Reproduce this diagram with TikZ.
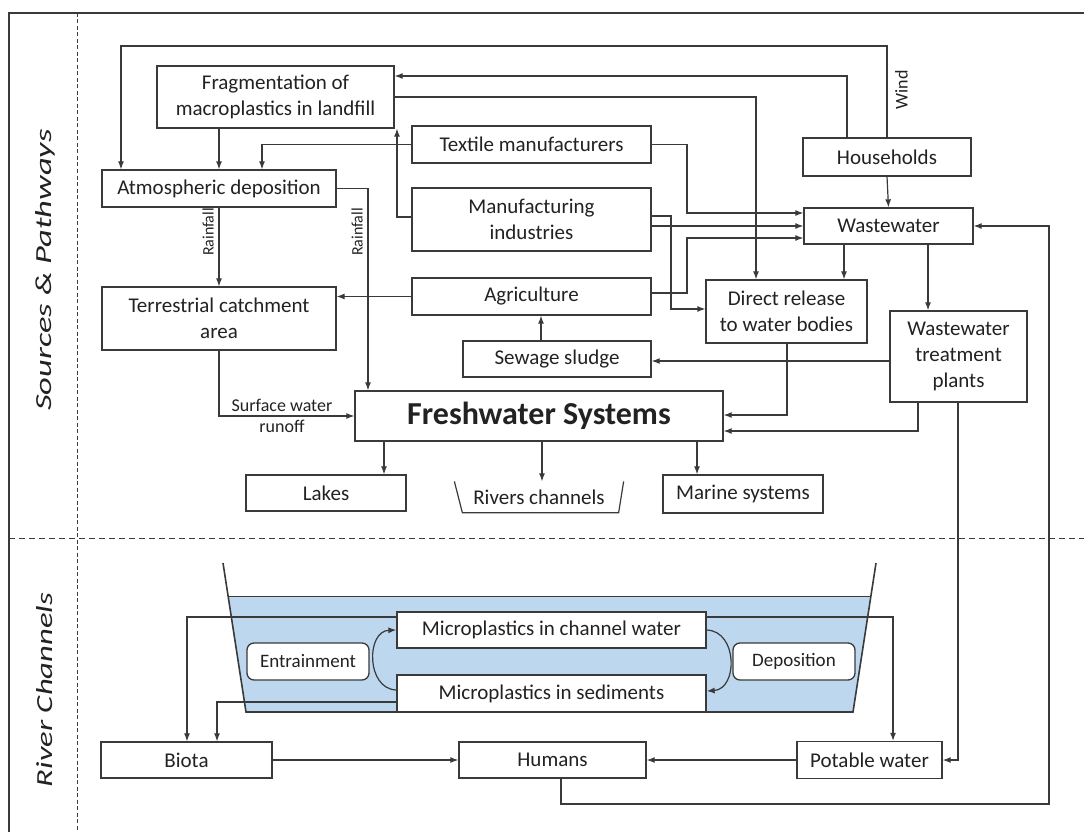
\documentclass[tikz,border=0pt]{standalone}
\usepackage{fontspec}
\setmainfont{Carlito}
\usetikzlibrary{arrows.meta,calc}
\definecolor{ln}{HTML}{3A3A3A}
\definecolor{tx}{HTML}{222222}
\definecolor{water}{HTML}{BDD7EE}
\begin{document}
\begin{tikzpicture}[x=1pt,y=-1pt,
  sz/.style 2 args={minimum width=#1pt,minimum height=#2pt},
  box/.style={draw=ln,line width=1.3pt,fill=white,inner sep=0pt,align=center,text=tx,font=\fontsize{21}{26}\selectfont},
  rbox/.style={box,rounded corners=7pt,font=\fontsize{19}{22}\selectfont},
  arr/.style={draw=ln,line width=1.2pt,-{Latex[length=8pt,width=6pt]}},
  lbl/.style={font=\fontsize{18}{21}\selectfont,text=tx,inner sep=0pt,align=center},
  sec/.style={font=\fontsize{23}{26}\selectfont\itshape,text=tx,rotate=90,inner sep=0pt},
  frame/.style={draw=ln,line width=1.2pt},
  sepline/.style={draw=ln,line width=1pt,dash pattern=on 6pt off 4pt},
]
\useasboundingbox (0,0) rectangle (1084,832);

% frame and section separators
\draw[frame] (1084,13) -- (9,13) -- (9,832);
\draw[sepline] (9,538) -- (1084,538);
\draw[draw=ln,line width=1pt,dash pattern=on 4pt off 2.5pt] (77,13) -- (77,832);
\node[sec] (secA) at (45,270) {\scalebox{1.5}[1]{Sources \& Pathways}};
\node[sec] (secB) at (45,690) {\scalebox{1.42}[1]{River Channels}};

% river channel
\fill[water] (228,596) -- (871,596) -- (853,712) -- (246,712) -- cycle;
\draw[draw=ln,line width=1pt] (228,596) -- (871,596);
\draw[draw=ln,line width=1.6pt] (223,563) -- (246,712) -- (853,712) -- (876,563);

% nodes: sources and pathways
\node[box,sz={237}{62}] (frag) at (275.5,97) {Fragmentation of\\macroplastics in landfill};
\node[box,sz={234}{37}] (atm) at (219,188.5) {Atmospheric deposition};
\node[box,sz={234}{63}] (terr) at (219,318.5) {Terrestrial catchment\\area};
\node[box,sz={239}{37}] (textile) at (531.5,144.5) {Textile manufacturers};
\node[box,sz={239}{63}] (manu) at (531.5,219.5) {Manufacturing\\industries};
\node[box,sz={239}{37}] (agri) at (531.5,296.5) {Agriculture};
\node[box,sz={188}{36}] (sludge) at (557,359) {Sewage sludge};
\node[box,sz={168}{38}] (house) at (887,157) {Households};
\node[box,sz={169}{36}] (ww) at (888.5,226) {Wastewater};
\node[box,sz={161}{63}] (direct) at (786.5,311.5) {Direct release\\to water bodies};
\node[box,sz={137}{91}] (wwtp) at (958.5,356.5) {Wastewater\\treatment\\plants};
\node[box,sz={368}{50},font=\fontsize{32}{36}\selectfont\bfseries] (fresh) at (539,416) {Freshwater Systems};
\node[box,sz={160}{36}] (lakes) at (326,493) {Lakes};
\node[box,draw=none,fill=none,sz={168}{30}] (rivers) at (539,497) {Rivers channels};
\draw[draw=ln,line width=1.2pt] (rivers.north west) -- ([xshift=8pt]rivers.south west) -- ([xshift=-5pt]rivers.south east) -- (rivers.north east);
\node[box,sz={160}{38}] (marine) at (743,494) {Marine systems};

% nodes: river channels
\node[box,sz={309}{36}] (mcw) at (551.5,630) {Microplastics in channel water};
\node[box,sz={309}{37}] (msed) at (551.5,693.5) {Microplastics in sediments};
\node[rbox,sz={122}{37}] (entr) at (308,661.5) {Entrainment};
\node[rbox,sz={122}{37}] (depo) at (794,661.5) {Deposition};
\node[box,sz={171}{36}] (biota) at (186.5,760) {Biota};
\node[box,sz={187}{36}] (humans) at (552.5,760) {Humans};
\node[box,sz={145}{37}] (potable) at (869.5,760) {Potable water};

% connectors: top section
\draw[arr] (house.north) -- (house.north |- 0,46) -| (atm.north -| 121,0);
\node[lbl,rotate=90,anchor=north] (wind) at (895,90) {Wind};
\draw[arr] (house.north -| 847,0) |- (frag.east |- 0,76);
\draw[arr] (frag.east |- 0,97) -| (direct.north -| 756,0);
\draw[arr] (frag.south -| 219,0) -- (atm.north -| 219,0);
\draw[arr] (textile.west) -| (atm.north -| 262,0);
\draw[arr] (textile.east) -- (textile.east -| 687,0) |- (ww.west |- 0,213);
\draw[arr] (atm.east) -| (fresh.north -| 368,0);
\node[lbl,rotate=90,anchor=south,font=\fontsize{16}{18}\selectfont] (rain2) at (363,232) {Rainfall};
\draw[arr] (atm.south) -- (terr.north);
\node[lbl,rotate=90,anchor=south,font=\fontsize{16}{18}\selectfont] (rain1) at (214,232) {Rainfall};
\draw[arr] (manu.west |- 0,217) -| (frag.south -| 397,0);
\draw[arr] (manu.east |- 0,216) -- (671,216) |- (direct.west |- 0,309);
\draw[arr] (manu.east |- 0,226) -- (ww.west |- 0,226);
\draw[arr] (agri.east |- 0,293) -- (687,293) |- (ww.west |- 0,238);
\draw[arr] (agri.west) -- (terr.east |- agri.west);
\draw[arr] (sludge.north -| 541,0) -- (agri.south -| 541,0);
\draw[arr] (house.south) -- (ww.north);
\draw[arr] (ww.south -| 844,0) -- (direct.north -| 844,0);
\draw[arr] (ww.south -| 928,0) -- (wwtp.north -| 928,0);
\draw[arr] (wwtp.west |- 0,361) -- (sludge.east |- 0,361);
\draw[arr] (direct.south -| 787,0) |- (fresh.east |- 0,415);
\draw[arr] (wwtp.south -| 918,0) |- (fresh.east |- 0,431);
\draw[arr] (wwtp.south -| 958,0) |- (potable.east);
\draw[arr] (terr.south) |- (fresh.west);
\node[lbl,anchor=south] (sw) at (282,412) {Surface water};
\node[lbl,anchor=north] (ro) at (282,420) {runoff};
\draw[arr] (fresh.south -| 384,0) -- (lakes.north -| 384,0);
\draw[arr] (fresh.south -| 542,0) -- (rivers.north -| 542,0);
\draw[arr] (fresh.south -| 697,0) -- (marine.north -| 697,0);

% connectors: river channels
\draw[arr] (mcw.west |- 0,617) -| (biota.north -| 187,0);
\draw[arr] (msed.west |- 0,702) -| (biota.north -| 217,0);
\draw[arr] (mcw.east |- 0,617) -| (potable.north -| 893,0);
\draw[arr] (biota.east) -- (humans.west);
\draw[arr] (potable.west) -- (humans.east);
\draw[arr] (humans.south -| 561,0) |- (1049,804) |- (ww.east);
\draw[arr] (msed.west |- 0,690) .. controls (366,689) and (366,631) .. (mcw.west |- 0,630);
\draw[arr] (mcw.east |- 0,630) .. controls (738,631) and (738,689) .. (msed.east |- 0,691);
\end{tikzpicture}
\end{document}
